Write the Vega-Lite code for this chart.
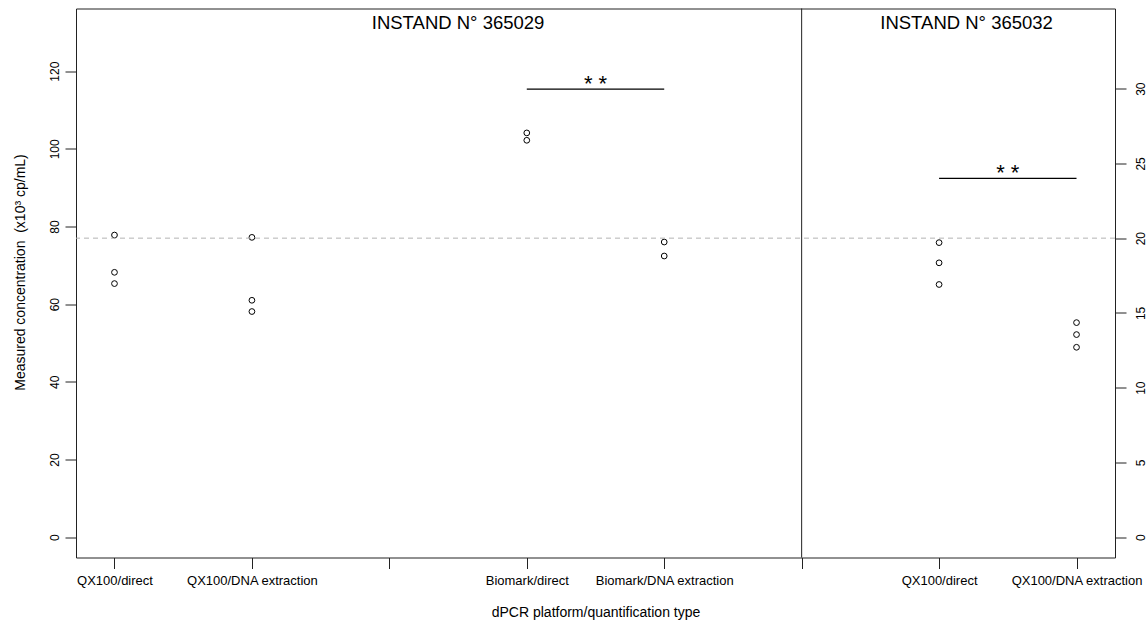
{
  "$schema": "https://vega.github.io/schema/vega-lite/v6.json",
  "width": 1039,
  "height": 549,
  "autosize": {"type": "none"},
  "padding": {"left": 76, "top": 8.5, "right": 33, "bottom": 63.5},
  "background": "white",
  "config": {
    "view": {"stroke": "#222", "strokeWidth": 1},
    "font": "Liberation Sans",
    "axis": {"domain": false, "grid": false, "tickColor": "#222", "tickWidth": 1, "labelColor": "#000", "titleColor": "#000", "labelFont": "Liberation Sans", "titleFont": "Liberation Sans"}
  },
  "datasets": {
    "left": [
      {"sample": "365029", "method": "QX100/direct", "pos": 1, "conc": 77.8},
      {"sample": "365029", "method": "QX100/direct", "pos": 1, "conc": 68.2},
      {"sample": "365029", "method": "QX100/direct", "pos": 1, "conc": 65.3},
      {"sample": "365029", "method": "QX100/DNA extraction", "pos": 2, "conc": 77.2},
      {"sample": "365029", "method": "QX100/DNA extraction", "pos": 2, "conc": 61.0},
      {"sample": "365029", "method": "QX100/DNA extraction", "pos": 2, "conc": 58.1},
      {"sample": "365029", "method": "Biomark/direct", "pos": 4, "conc": 104.1},
      {"sample": "365029", "method": "Biomark/direct", "pos": 4, "conc": 102.2},
      {"sample": "365029", "method": "Biomark/DNA extraction", "pos": 5, "conc": 76.0},
      {"sample": "365029", "method": "Biomark/DNA extraction", "pos": 5, "conc": 72.4}
    ],
    "right": [
      {"sample": "365032", "method": "QX100/direct", "pos": 7, "conc": 19.7},
      {"sample": "365032", "method": "QX100/direct", "pos": 7, "conc": 18.35},
      {"sample": "365032", "method": "QX100/direct", "pos": 7, "conc": 16.9},
      {"sample": "365032", "method": "QX100/DNA extraction", "pos": 8, "conc": 14.35},
      {"sample": "365032", "method": "QX100/DNA extraction", "pos": 8, "conc": 13.55},
      {"sample": "365032", "method": "QX100/DNA extraction", "pos": 8, "conc": 12.7}
    ],
    "ref": [{"y": 77}],
    "divider": [{"pos": 6}],
    "sigLeft": [{"pos": 4, "x2": 5, "xm": 4.5, "y": 115.4, "label": "* *"}],
    "sigRight": [{"pos": 7, "x2": 8, "xm": 7.5, "y": 24.0, "label": "* *"}],
    "titles": [
      {"xm": 3.5, "y": 132.5, "label": "INSTAND N° 365029"},
      {"xm": 7.2, "y": 132.5, "label": "INSTAND N° 365032"}
    ]
  },
  "layer": [
    {
      "data": {"name": "left"},
      "mark": {"type": "point", "shape": "circle", "filled": false, "stroke": "#000", "strokeWidth": 1, "size": 33, "opacity": 1},
      "encoding": {
        "x": {
          "field": "pos", "type": "quantitative",
          "scale": {"domain": [0.72, 8.28], "nice": false, "zero": false},
          "axis": {
            "values": [1, 2, 3, 4, 5, 6, 7, 8],
            "labelExpr": "datum.value==1?'QX100/direct':datum.value==2?'QX100/DNA extraction':datum.value==4?'Biomark/direct':datum.value==5?'Biomark/DNA extraction':datum.value==7?'QX100/direct':datum.value==8?'QX100/DNA extraction':''",
            "title": "dPCR platform/quantification type",
            "tickSize": 11, "labelPadding": 6, "labelFontSize": 13,
            "titleFontSize": 14, "titleFontWeight": "normal",
            "titleBaseline": "middle", "titleY": 55,
            "labelFlush": false, "labelOverlap": false, "labelBound": false
          }
        },
        "y": {
          "field": "conc", "type": "quantitative",
          "scale": {"domain": [-5.236, 136.136], "nice": false, "zero": false},
          "axis": {
            "orient": "left",
            "values": [0, 20, 40, 60, 80, 100, 120],
            "labelAngle": -90, "labelAlign": "center", "labelBaseline": "middle",
            "labelPadding": 11, "tickSize": 11, "labelFontSize": 12,
            "title": "Measured concentration\u00a0 (x10³ cp/mL)",
            "titleFontSize": 14, "titleFontWeight": "normal",
            "titleAngle": -90, "titleX": -56, "titleY": 263.5,
            "titleAlign": "center", "titleBaseline": "middle"
          }
        }
      }
    },
    {
      "data": {"name": "right"},
      "mark": {"type": "point", "shape": "circle", "filled": false, "stroke": "#000", "strokeWidth": 1, "size": 33, "opacity": 1},
      "encoding": {
        "x": {"field": "pos", "type": "quantitative"},
        "y": {
          "field": "conc", "type": "quantitative",
          "scale": {"domain": [-1.36, 35.36], "nice": false, "zero": false},
          "axis": {
            "orient": "right",
            "values": [0, 5, 10, 15, 20, 25, 30],
            "labelAngle": -90, "labelAlign": "center", "labelBaseline": "middle",
            "labelPadding": 14, "tickSize": 11, "labelFontSize": 12,
            "title": null
          }
        }
      }
    },
    {
      "data": {"name": "ref"},
      "mark": {"type": "rule", "stroke": "#b3b3b3", "strokeWidth": 1, "strokeDash": [5, 4]},
      "encoding": {"y": {"field": "y", "type": "quantitative", "axis": null, "scale": {"domain": [-5.236, 136.136], "nice": false, "zero": false}}}
    },
    {
      "data": {"name": "divider"},
      "mark": {"type": "rule", "stroke": "#222", "strokeWidth": 1},
      "encoding": {"x": {"field": "pos", "type": "quantitative"}}
    },
    {
      "data": {"name": "sigLeft"},
      "mark": {"type": "rule", "stroke": "#000", "strokeWidth": 1.2},
      "encoding": {
        "x": {"field": "pos", "type": "quantitative"},
        "x2": {"field": "x2"},
        "y": {"field": "y", "type": "quantitative", "axis": null, "scale": {"domain": [-5.236, 136.136], "nice": false, "zero": false}}
      }
    },
    {
      "data": {"name": "sigLeft"},
      "mark": {"type": "text", "fontSize": 22, "baseline": "alphabetic", "align": "center", "dy": 2, "color": "#000"},
      "encoding": {
        "x": {"field": "xm", "type": "quantitative"},
        "y": {"field": "y", "type": "quantitative", "axis": null, "scale": {"domain": [-5.236, 136.136], "nice": false, "zero": false}},
        "text": {"field": "label"}
      }
    },
    {
      "data": {"name": "sigRight"},
      "mark": {"type": "rule", "stroke": "#000", "strokeWidth": 1.2},
      "encoding": {
        "x": {"field": "pos", "type": "quantitative"},
        "x2": {"field": "x2"},
        "y": {"field": "y", "type": "quantitative", "axis": null, "scale": {"domain": [-1.36, 35.36], "nice": false, "zero": false}}
      }
    },
    {
      "data": {"name": "sigRight"},
      "mark": {"type": "text", "fontSize": 22, "baseline": "alphabetic", "align": "center", "dy": 2, "color": "#000"},
      "encoding": {
        "x": {"field": "xm", "type": "quantitative"},
        "y": {"field": "y", "type": "quantitative", "axis": null, "scale": {"domain": [-1.36, 35.36], "nice": false, "zero": false}},
        "text": {"field": "label"}
      }
    },
    {
      "data": {"name": "titles"},
      "mark": {"type": "text", "fontSize": 18.5, "baseline": "middle", "align": "center", "color": "#000"},
      "encoding": {
        "x": {"field": "xm", "type": "quantitative"},
        "y": {"field": "y", "type": "quantitative", "axis": null, "scale": {"domain": [-5.236, 136.136], "nice": false, "zero": false}},
        "text": {"field": "label"}
      }
    }
  ],
  "resolve": {"scale": {"y": "independent"}}
}
